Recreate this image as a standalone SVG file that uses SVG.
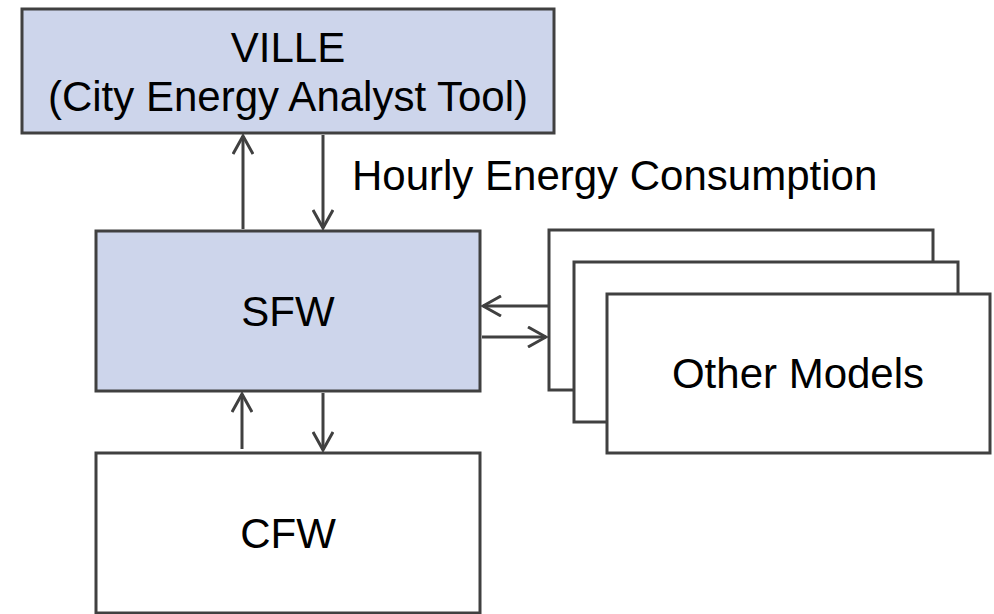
<svg xmlns="http://www.w3.org/2000/svg" width="994" height="614" viewBox="0 0 994 614">
<style>
.box{stroke:#404040;stroke-width:3}
.blue{fill:#CDD5EB}
.white{fill:#FFFFFF}
.t{font-family:"Liberation Sans",Arial,sans-serif;font-size:42px;fill:#000}
.c{text-anchor:middle}
.ln{stroke:#404040;stroke-width:3;fill:none}
</style>
<defs>
<marker id="ah" viewBox="-20 -11 22 22" refX="0" refY="0" markerWidth="22" markerHeight="22" markerUnits="userSpaceOnUse" orient="auto">
<path d="M-18,-10 L0,0 L-18,10" fill="none" stroke="#404040" stroke-width="3"/>
</marker>
</defs>
<rect width="994" height="614" fill="#FFFFFF"/>
<g id="ville">
<rect class="box blue" x="22" y="9" width="532" height="124"/>
<text class="t c" x="288" y="62">VILLE</text>
<text class="t c" x="288" y="111">(City Energy Analyst Tool)</text>
</g>
<g id="sfw">
<rect class="box blue" x="96" y="231" width="384" height="160"/>
<text class="t c" x="288" y="326">SFW</text>
</g>
<g id="cfw">
<rect class="box white" x="96" y="453" width="384" height="160"/>
<text class="t c" x="288" y="548">CFW</text>
</g>
<g id="other-models">
<rect class="box white" x="549" y="230" width="384" height="160"/>
<rect class="box white" x="574" y="262" width="384" height="160"/>
<rect class="box white" x="607" y="294" width="383" height="159"/>
<text class="t c" x="798" y="388">Other Models</text>
</g>
<g id="connectors">
<line class="ln" x1="243" y1="229" x2="243" y2="136" marker-end="url(#ah)"/>
<line class="ln" x1="323" y1="135" x2="323" y2="228" marker-end="url(#ah)"/>
<line class="ln" x1="242" y1="449" x2="242" y2="394" marker-end="url(#ah)"/>
<line class="ln" x1="323" y1="393" x2="323" y2="450" marker-end="url(#ah)"/>
<line class="ln" x1="548" y1="306" x2="483" y2="306" marker-end="url(#ah)"/>
<line class="ln" x1="482" y1="337" x2="546" y2="337" marker-end="url(#ah)"/>
</g>
<text id="label-hourly" class="t" x="352" y="190">Hourly Energy Consumption</text>
</svg>
